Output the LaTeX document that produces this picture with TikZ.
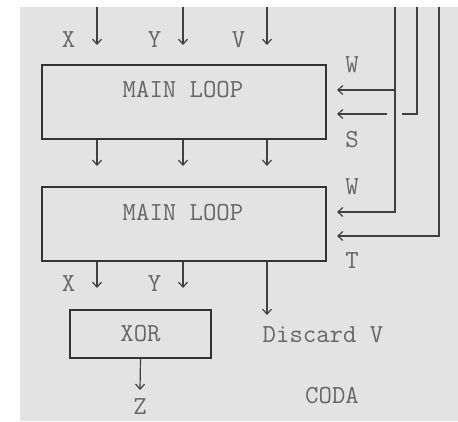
\documentclass[tikz,border=0pt]{standalone}
\usepackage{fontspec}
\usetikzlibrary{arrows.meta,positioning}

\begin{document}
\begin{tikzpicture}[x=1pt,y=-1pt,
    wire/.style={draw=black!75,line width=1.2pt},
    arr/.style={wire,-{Straight Barb[length=5pt,width=9pt,line width=1.2pt]}},
    lbl/.style={font=\fontsize{26}{26}\selectfont\ttfamily,text=black!60,inner sep=0pt},
    blk/.style={draw=black!80,line width=1.3pt,minimum width=284pt,minimum height=74pt,inner sep=0pt}]
    % Background
    \fill[white] (0,0) rectangle (458,421);
    \fill[gray!22] (20,7) rectangle (458,421);
    \useasboundingbox (0,0) rectangle (458,421);
    % Blocks
    \node[blk] (loopA) at (184,102) {};
    \node[blk] (loopB) at (184,224) {};
    \node[blk,minimum width=141pt,minimum height=48pt] (xorbox) at (140.5,334) {};
    \node[lbl] (loopAtxt) at (183,90) {MAIN LOOP};
    \node[lbl] (loopBtxt) at (183,213) {MAIN LOOP};
    \node[lbl] (xortxt) at (xorbox) {XOR};
    % Inputs: {name/x}
    \foreach \n/\x in {X/97, Y/183, V/267}{
      \coordinate (in\n) at (\x,7);
      \coordinate (inTip\n) at (\x,45);
      \node[lbl] (lab\n) at (\x-28.5,40) {\n};
      \draw[arr] (in\n) -- (inTip\n);
      \draw[arr] (\x,0 |- loopA.south) -- (\x,166);
    }
    % Outputs
    \foreach \n/\x in {X/97, Y/183}{
      \node[lbl] (out\n) at (\x-28.5,284) {\n};
      \draw[arr] (\x,0 |- loopB.south) -- (\x,288);
    }
    \node[lbl] (discard) at (323,335) {Discard V};
    \draw[arr] (267,0 |- loopB.south) -- (267,315);
    \node[lbl] (outZ) at (140,407) {Z};
    \draw[arr] (xorbox.south) -- (140,390);
    \node[lbl] (coda) at (332,396) {CODA};
    % Side feeds
    \coordinate (wTop) at (395,7);
    \coordinate (sTop) at (417,7);
    \coordinate (tTop) at (439,7);
    \draw[arr] (wTop) |- (337,212);
    \draw[arr] (395,90) -- (337,90);
    \draw[wire] (sTop) |- (402,114);
    \draw[arr] (387,114) -- (337,114);
    \draw[arr] (tTop) |- (337,236);
    \foreach \t/\y [count=\i] in {W/65, S/140, W/187, T/261}
      \node[lbl] (side\i) at (352,\y) {\t};
\end{tikzpicture}
\end{document}
